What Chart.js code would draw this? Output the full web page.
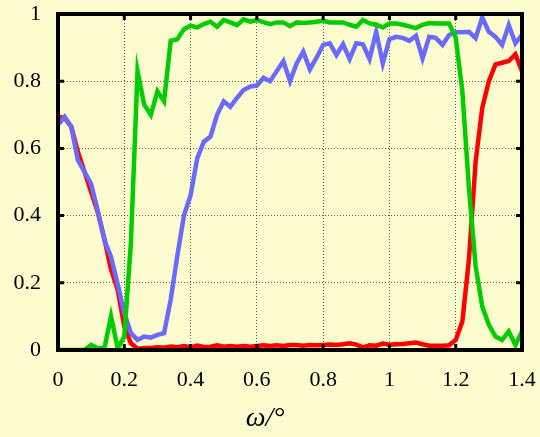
<!DOCTYPE html>
<html>
<head>
<meta charset="utf-8">
<script src="https://cdn.jsdelivr.net/npm/chart.js@4/dist/chart.umd.min.js"></script>
<style>
  html, body { margin: 0; padding: 0; background: #fdfccf; }
  canvas { display: block; background: #fdfccf; }
</style>
</head>
<body>
<canvas id="chart" width="540" height="437"></canvas>
<script>
// ---- data ----
const omega = [
  0, 0.02, 0.04, 0.06, 0.08, 0.1, 0.12, 0.14, 0.16, 0.18,
  0.2, 0.22, 0.24, 0.26, 0.28, 0.3, 0.32, 0.34, 0.36, 0.38,
  0.4, 0.42, 0.44, 0.46, 0.48, 0.5, 0.52, 0.54, 0.56, 0.58,
  0.6, 0.62, 0.64, 0.66, 0.68, 0.7, 0.72, 0.74, 0.76, 0.78,
  0.8, 0.82, 0.84, 0.86, 0.88, 0.9, 0.92, 0.94, 0.96, 0.98,
  1, 1.02, 1.04, 1.06, 1.08, 1.1, 1.12, 1.14, 1.16, 1.18,
  1.2, 1.22, 1.24, 1.26, 1.28, 1.3, 1.32, 1.34, 1.36, 1.38,
  1.4
];

const redSeries = [
  0.695, 0.69, 0.665, 0.59, 0.53, 0.47, 0.41, 0.33, 0.24, 0.18,
  0.07, 0.02, 0.004, 0.006, 0.006, 0.008, 0.007, 0.01, 0.008, 0.012,
  0.008, 0.013, 0.009, 0.01, 0.014, 0.01, 0.012, 0.01, 0.012, 0.01,
  0.012, 0.014, 0.012, 0.014, 0.012, 0.015, 0.015, 0.013, 0.015, 0.014,
  0.015, 0.016, 0.015, 0.017, 0.02, 0.016, 0.008, 0.014, 0.013, 0.019,
  0.016, 0.017, 0.018, 0.02, 0.022, 0.017, 0.013, 0.013, 0.013, 0.014,
  0.03, 0.085, 0.27, 0.56, 0.72, 0.8, 0.85, 0.855, 0.86, 0.88,
  0.83
];

const greenSeries = [
  0, 0, 0, 0, 0, 0.015, 0.005, 0.005, 0.1, 0.005,
  0.04, 0.32, 0.83, 0.73, 0.7, 0.77, 0.74, 0.92, 0.925, 0.955,
  0.965, 0.96, 0.97, 0.977, 0.962, 0.982, 0.975, 0.967, 0.984, 0.977,
  0.982, 0.976, 0.97, 0.975, 0.975, 0.964, 0.975, 0.973, 0.975, 0.977,
  0.98, 0.975, 0.975, 0.975, 0.968, 0.962, 0.982, 0.972, 0.968, 0.96,
  0.972, 0.972, 0.968, 0.963, 0.958, 0.968, 0.973, 0.972, 0.972, 0.972,
  0.93, 0.77, 0.48, 0.25, 0.13, 0.075, 0.04, 0.03, 0.055, 0.015,
  0.055
];

const blueSeries = [
  0.67, 0.694, 0.664, 0.565, 0.53, 0.494, 0.414, 0.327, 0.277, 0.196,
  0.11, 0.05, 0.03, 0.04, 0.037, 0.045, 0.05, 0.15, 0.28, 0.4,
  0.46, 0.57, 0.62, 0.635, 0.7, 0.74, 0.724, 0.75, 0.774, 0.784,
  0.787, 0.81, 0.8, 0.83, 0.86, 0.8, 0.853, 0.888, 0.835, 0.87,
  0.908, 0.913, 0.878, 0.91, 0.866, 0.913, 0.91, 0.866, 0.947, 0.853,
  0.925, 0.932, 0.929, 0.92, 0.935, 0.868, 0.932, 0.929, 0.908, 0.9375,
  0.946, 0.946, 0.947, 0.928, 0.99, 0.947, 0.932, 0.908, 0.967, 0.913,
  0.9375
];

const xTicks      = [0, 0.2, 0.4, 0.6, 0.8, 1, 1.2, 1.4];
const xTickLabels = ['0', '0.2', '0.4', '0.6', '0.8', '1', '1.2', '1.4'];
const yTicks      = [0, 0.2, 0.4, 0.6, 0.8, 1];
const yTickLabels = ['0', '0.2', '0.4', '0.6', '0.8', '1'];
const xTitle = 'ω/°';

// ---- helpers ----
const toPoints = ys => ys.map((v, i) => ({ x: omega[i], y: v }));

const lineStyle = color => ({
  borderColor: color,
  borderWidth: 4.5,
  pointRadius: 0,
  tension: 0,
  fill: false
});

const serif = "'Liberation Serif', 'DejaVu Serif', serif";

// thick frame + inward tick marks over the curves, and the axis title
// (the title sits left of the plot centre in the original, so it is drawn by hand)
const framePlugin = {
  id: 'frame',
  afterDatasetsDraw(chart) {
    const { ctx, chartArea: a, scales: { x, y } } = chart;
    ctx.save();
    ctx.strokeStyle = '#000';
    ctx.lineWidth = 3;
    ctx.beginPath();
    xTicks.forEach(v => {
      const px = x.getPixelForValue(v);
      ctx.moveTo(px, a.bottom); ctx.lineTo(px, a.bottom - 6);
      ctx.moveTo(px, a.top);    ctx.lineTo(px, a.top + 6);
    });
    yTicks.forEach(v => {
      const py = y.getPixelForValue(v);
      ctx.moveTo(a.left, py);  ctx.lineTo(a.left + 6, py);
      ctx.moveTo(a.right, py); ctx.lineTo(a.right - 6, py);
    });
    ctx.stroke();
    ctx.lineWidth = 4;
    ctx.strokeRect(a.left, a.top, a.right - a.left, a.bottom - a.top);

    ctx.fillStyle = '#000';
    ctx.font = 'italic 28px ' + serif;
    ctx.textAlign = 'center';
    ctx.textBaseline = 'alphabetic';
    ctx.fillText(xTitle, 265, 426);
    ctx.restore();
  }
};

const tickFont = { family: serif, size: 22 };
const gridOpts = { color: 'rgba(40,40,40,0.75)', lineWidth: 1, drawTicks: false };

new Chart(document.getElementById('chart'), {
  type: 'line',
  data: {
    datasets: [
      { label: 'green', data: toPoints(greenSeries), order: 0, ...lineStyle('#00cc00') },
      { label: 'blue',  data: toPoints(blueSeries),  order: 1, ...lineStyle('#6a6aff') },
      { label: 'red',   data: toPoints(redSeries),   order: 2, ...lineStyle('#ff0000') }
    ]
  },
  options: {
    responsive: false,
    animation: false,
    layout: { padding: { left: 0, top: 14, right: 18, bottom: 0 } },
    plugins: {
      legend: { display: false },
      tooltip: { enabled: false }
    },
    scales: {
      x: {
        type: 'linear',
        min: 0,
        max: 1.4,
        afterBuildTicks: s => { s.ticks = xTicks.map(v => ({ value: v })); },
        afterFit: s => { s.height = 87; s.paddingLeft = 0; s.paddingRight = 0; },
        ticks: {
          color: '#000',
          font: tickFont,
          padding: 17,
          maxRotation: 0,
          autoSkip: false,
          callback: (v, i) => xTickLabels[i]
        },
        grid: gridOpts,
        border: { display: false, dash: [1, 2] }
      },
      y: {
        type: 'linear',
        min: 0,
        max: 1,
        afterBuildTicks: s => { s.ticks = yTicks.map(v => ({ value: v })); },
        afterFit: s => { s.width = 58; s.paddingTop = 0; s.paddingBottom = 0; },
        ticks: {
          color: '#000',
          font: tickFont,
          padding: 17,
          autoSkip: false,
          callback: (v, i) => yTickLabels[i]
        },
        grid: gridOpts,
        border: { display: false, dash: [1, 2] }
      }
    }
  },
  plugins: [framePlugin]
});
</script>
</body>
</html>
